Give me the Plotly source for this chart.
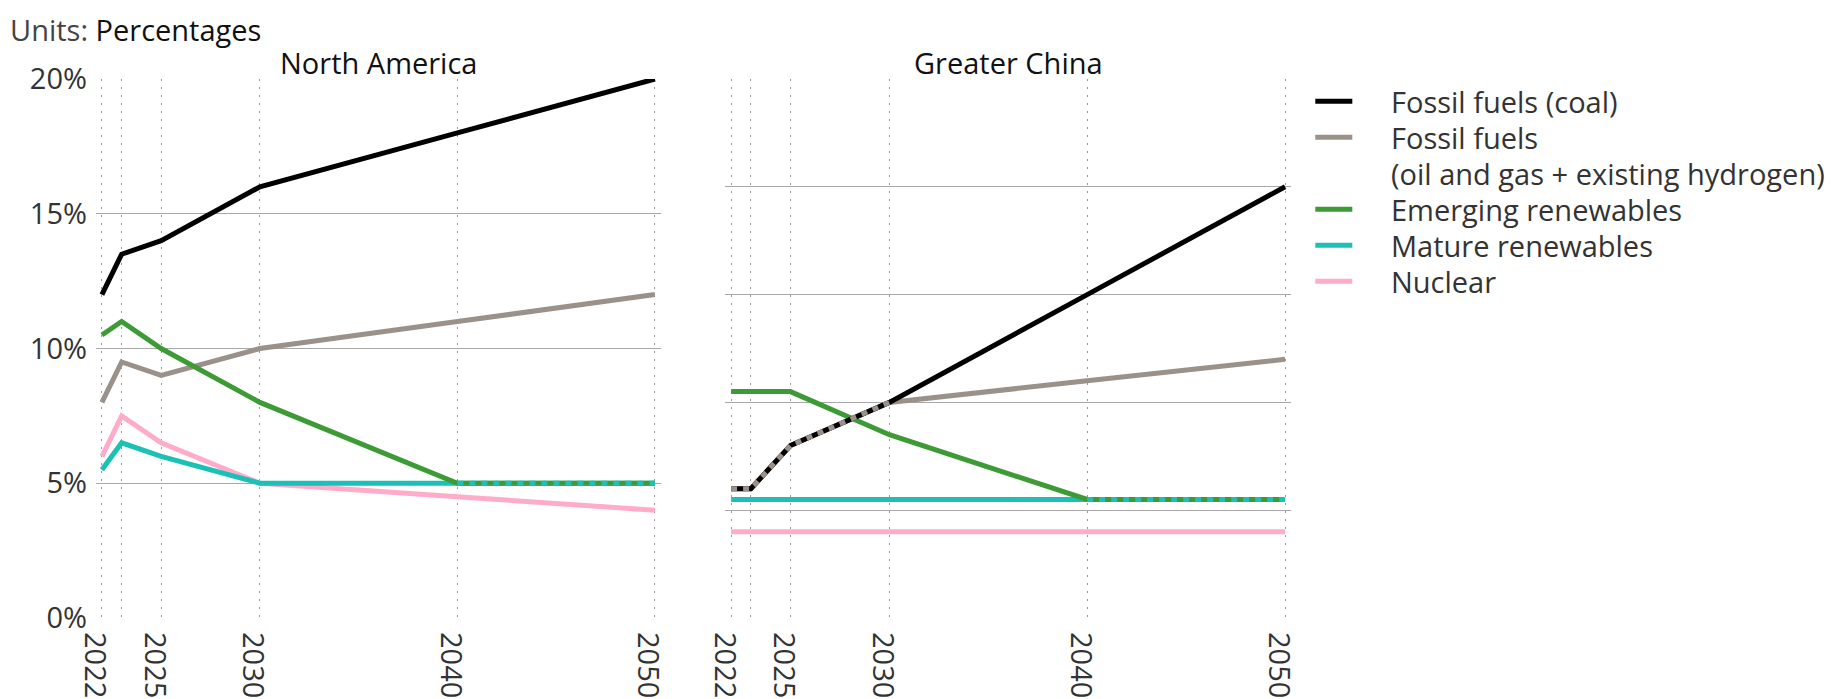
import plotly.graph_objects as go

# ---------------- data ----------------
years = [2022, 2023, 2025, 2030, 2040, 2050]
regions = ["North America", "Greater China"]
series_names = [
    "Fossil fuels (coal)",
    "Fossil fuels<br>(oil and gas + existing hydrogen)",
    "Emerging renewables",
    "Mature renewables",
    "Nuclear",
]
series_colors = ["#000000", "#9a918a", "#3d9b35", "#1bc0b6", "#ffabc9"]

na_coal = [12.0, 13.5, 14.0, 16.0, 18.0, 20.0]
na_oilgas = [8.0, 9.5, 9.0, 10.0, 11.0, 12.0]
na_emerging = [10.5, 11.0, 10.0, 8.0, 5.0, 5.0]
na_mature = [5.5, 6.5, 6.0, 5.0, 5.0, 5.0]
na_nuclear = [6.0, 7.5, 6.5, 5.0, 4.5, 4.0]

gc_coal = [4.8, 4.8, 6.4, 8.0, 12.0, 16.0]
gc_oilgas = [4.8, 4.8, 6.4, 8.0, 8.8, 9.6]
gc_emerging = [8.4, 8.4, 8.4, 6.8, 4.4, 4.4]
gc_mature = [4.4, 4.4, 4.4, 4.4, 4.4, 4.4]
gc_nuclear = [3.2, 3.2, 3.2, 3.2, 3.2, 3.2]

x_tick_vals = [2022, 2023, 2025, 2030, 2040, 2050]
x_tick_text = ["2022", "", "2025", "2030", "2040", "2050"]
y_tick_vals_left = [0, 5, 10, 15, 20]
y_tick_text_left = ["0%", "5%", "10%", "15%", "20%"]

panel_data = [
    [na_coal, na_oilgas, na_emerging, na_mature, na_nuclear],
    [gc_coal, gc_oilgas, gc_emerging, gc_mature, gc_nuclear],
]

# ---------------- layout geometry ----------------
# page coordinates (the html body has an 8px margin)
OFF = 8
PAGE_W, PAGE_H = 1833, 699
W, H = PAGE_W - OFF, PAGE_H - OFF
P_LEFT, P_RIGHT, P_TOP, P_BOTTOM = 96, 1290.7, 78.7, 617.7
L = P_LEFT - OFF
T = P_TOP - OFF
R = W - (P_RIGHT - OFF)
B = H - (P_BOTTOM - OFF)
plot_w = P_RIGHT - P_LEFT
plot_h = P_BOTTOM - P_TOP
left_dom = [0, (660.7 - P_LEFT) / plot_w]
right_dom = [(725 - P_LEFT) / plot_w, 1]


def px_x(X):
    return (X - P_LEFT) / plot_w


def px_y(Y):
    return (P_BOTTOM - Y) / plot_h


FONT = "Open Sans"
FS = 29
LW = 5

fig = go.Figure()

draw_order = [4, 3, 1, 2, 0]  # nuclear, mature, oil&gas, emerging, coal
for p in range(2):
    xa = "x" if p == 0 else "x2"
    ya = "y" if p == 0 else "y2"
    vals = panel_data[p]
    for i in draw_order:
        fig.add_trace(go.Scatter(
            x=years, y=vals[i], mode="lines", xaxis=xa, yaxis=ya,
            line=dict(color=series_colors[i], width=LW),
            showlegend=False, cliponaxis=False, hoverinfo="skip",
        ))
    # overlapping segments -> dashed overlay of the lower series
    for a_idx in range(len(draw_order)):
        for b_idx in range(a_idx + 1, len(draw_order)):
            ia, ib = draw_order[a_idx], draw_order[b_idx]
            k = 0
            n = len(years)
            while k < n - 1:
                if vals[ia][k] == vals[ib][k] and vals[ia][k + 1] == vals[ib][k + 1]:
                    s = k
                    while k < n - 1 and vals[ia][k] == vals[ib][k] and vals[ia][k + 1] == vals[ib][k + 1]:
                        k += 1
                    fig.add_trace(go.Scatter(
                        x=years[s:k + 1], y=vals[ia][s:k + 1], mode="lines",
                        xaxis=xa, yaxis=ya,
                        line=dict(color=series_colors[ia], width=LW, dash="6px,6px"),
                        showlegend=False, cliponaxis=False, hoverinfo="skip",
                    ))
                else:
                    k += 1

grid_h = "#a8a8a8"
grid_v = "#9a9a9a"
xcommon = dict(
    range=[2021.7, 2050.3], tickmode="array", tickvals=x_tick_vals, ticktext=x_tick_text,
    tickangle=90, showgrid=True, gridcolor=grid_v, griddash="2px,6px", gridwidth=1,
    zeroline=False, showline=False, ticks="", automargin=False,
    tickfont=dict(family=FONT, size=FS, color="#333333"),
    ticklabelshift=-7, ticklabelstandoff=13,
)
fig.update_layout(
    width=W, height=H,
    margin=dict(l=L, r=R, t=T, b=B, pad=0, autoexpand=False),
    paper_bgcolor="white", plot_bgcolor="white",
    showlegend=False,
    xaxis=dict(domain=left_dom, anchor="y", **xcommon),
    xaxis2=dict(domain=right_dom, anchor="y2", **xcommon),
    yaxis=dict(range=[0, 20], tickmode="array", tickvals=y_tick_vals_left, ticktext=y_tick_text_left,
               showgrid=True, gridcolor=grid_h, gridwidth=1, zeroline=False, showline=False,
               ticks="", automargin=False, tickfont=dict(family=FONT, size=FS, color="#333333"),
               ticklabelstandoff=8),
    yaxis2=dict(range=[0, 20], dtick=4, showticklabels=False, anchor="x2", automargin=False,
                showgrid=True, gridcolor=grid_h, gridwidth=1, zeroline=False, showline=False, ticks=""),
)

annotations = [
    dict(text="<span style='color:#444444'>Units:</span> Percentages", x=px_x(9), y=px_y(OFF + 0.5),
         xref="paper", yref="paper", xanchor="left", yanchor="top", showarrow=False, borderpad=0,
         font=dict(family=FONT, size=29, color="#111111")),
    dict(text=regions[0], x=(left_dom[0] + left_dom[1]) / 2, y=px_y(62), xref="paper", yref="paper",
         xanchor="center", yanchor="middle", showarrow=False, font=dict(family=FONT, size=FS, color="#111111")),
    dict(text=regions[1], x=(right_dom[0] + right_dom[1]) / 2, y=px_y(62), xref="paper", yref="paper",
         xanchor="center", yanchor="middle", showarrow=False, font=dict(family=FONT, size=FS, color="#111111")),
]

# manual legend
shapes = []
row_y0, row_dy = 101, 36
row = 0
for i, name in enumerate(series_names):
    yy = row_y0 + row * row_dy
    shapes.append(dict(type="line", xref="paper", yref="paper", x0=px_x(1315), x1=px_x(1352),
                       y0=px_y(yy), y1=px_y(yy), line=dict(color=series_colors[i], width=LW)))
    for part in name.split("<br>"):
        annotations.append(dict(text=part, x=px_x(1389), y=px_y(row_y0 + row * row_dy), xref="paper",
                                yref="paper", xanchor="left", yanchor="middle", showarrow=False,
                                font=dict(family=FONT, size=29, color="#333333")))
        row += 1

fig.update_layout(annotations=annotations, shapes=shapes)
fig.write_html("out.html")
